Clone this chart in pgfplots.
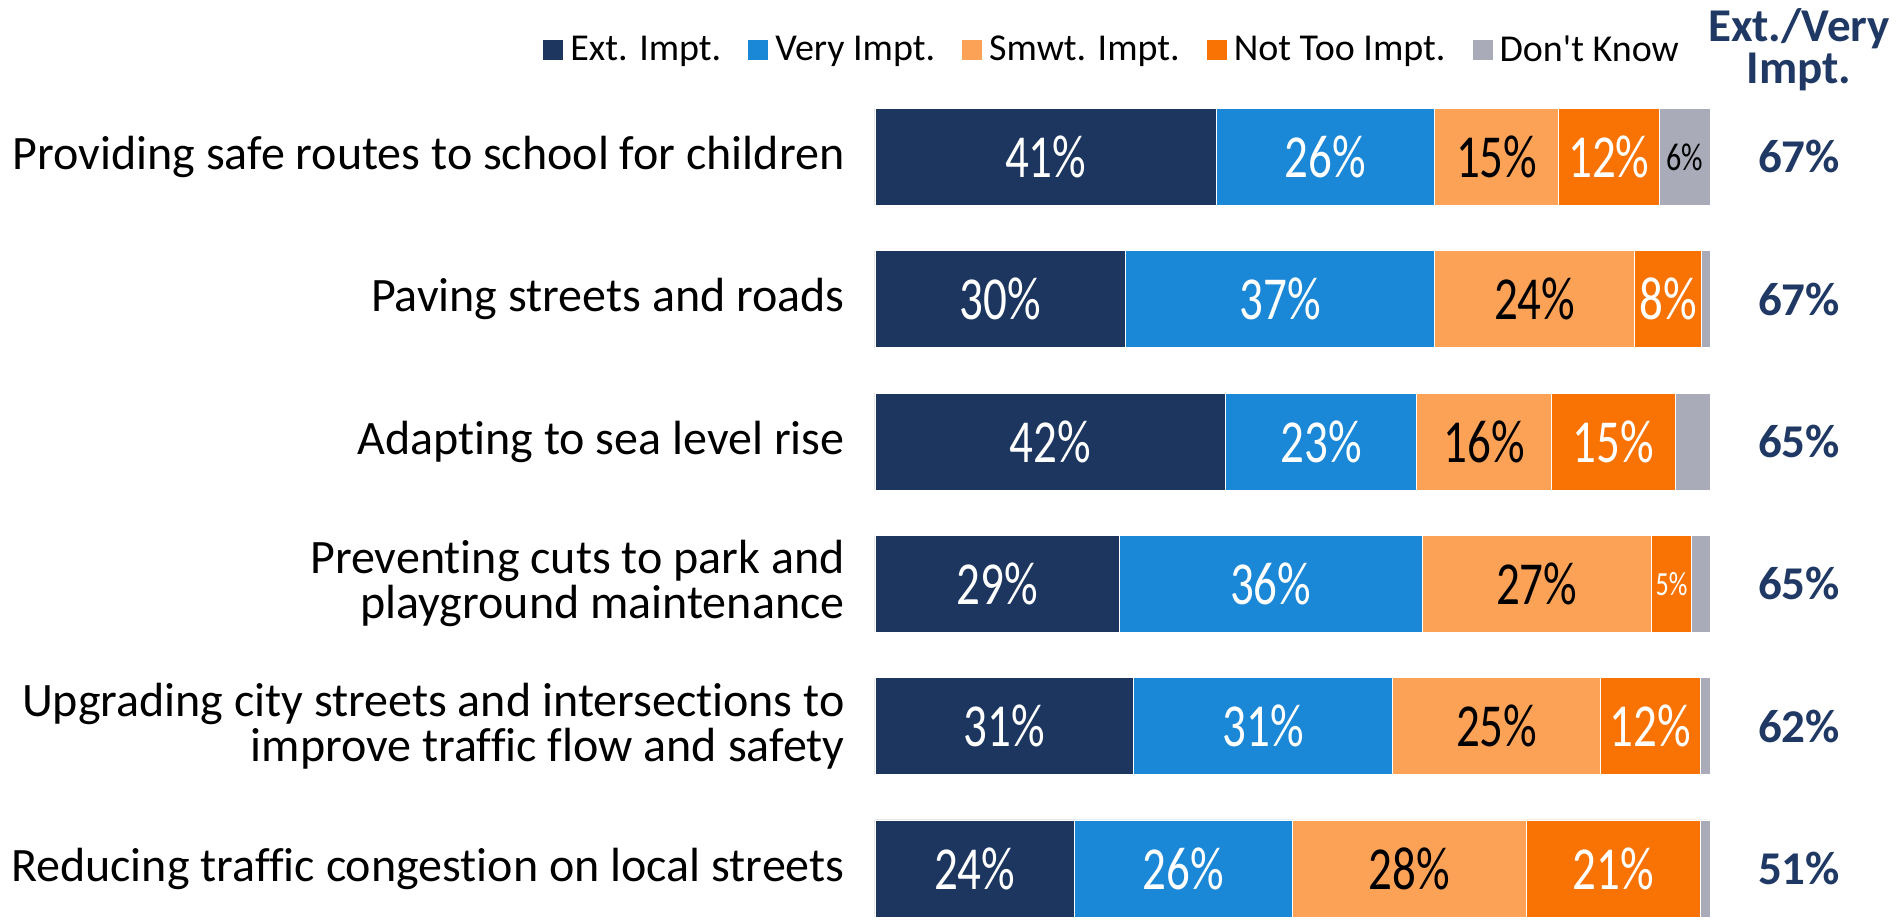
\documentclass[border=0pt]{standalone}
\usepackage{fontspec}
\setmainfont{Carlito}[Ligatures={NoCommon}]
\usepackage{pgfplots}
\usepackage{pgfplotstable}
\pgfplotsset{compat=1.18}
\definecolor{cExt}{HTML}{1C365F}
\definecolor{cVery}{HTML}{1B87D7}
\definecolor{cSmwt}{HTML}{FBA257}
\definecolor{cNot}{HTML}{F87304}
\definecolor{cDK}{HTML}{A9ABB8}
\definecolor{cHead}{HTML}{1F3864}
\newcommand\catfont{\fontsize{24}{22.5}\selectfont}
\newcommand\topfont{\fontsize{23.5}{21}\selectfont\bfseries}

% segment widths (percent of the bar) and the printed labels
\pgfplotstableread{
row ext  very smwt not  dk   lext lvery lsmwt lnot ldk
0   40.9 26.1 14.9 12.0 6.1  41   26    15    12   6
1   30.0 37.0 24.0 8.0  1.0  30   37    24    8    1
2   42.0 22.9 16.1 14.9 4.1  42   23    16    15   4
3   29.3 36.2 27.5 4.8  2.2  29   36    27    5    2
4   31.0 31.0 24.9 11.9 1.2  31   31    25    12   1
5   23.9 26.1 28.0 20.9 1.1  24   26    28    21   1
}\shares

\pgfplotsset{
  frame/.style={
    width=948.5pt, height=460pt, scale only axis,
    hide axis, clip=false,
    xmin=-104.79, xmax=122.40,
    ymin=-1.103, ymax=5.362, y dir=reverse,
  },
  seg/.style={draw=white, line width=0.4pt},
  lab/.style={draw=none, mark=none, nodes near coords,
    /pgf/number format/assume math mode=true,
    nodes near coords={\scalebox{1}[1.3]{\pgfmathprintnumber{\pgfplotspointmeta}\%}},
    every node near coord/.append style={anchor=center, inner sep=0pt,
      font=\fontsize{23.5}{23.5}\selectfont, text=#1}},
}

\begin{document}
\begin{tikzpicture}
\begin{axis}[
  frame,
  xbar stacked, bar width=0.682,
  legend columns=5,
  legend image code/.code={\fill[#1,draw=none] (0pt,-5pt) rectangle (10pt,5pt);},
  legend style={draw=none, fill=none, inner sep=0pt,
    at={(axis cs:-39.76,-0.752)}, anchor=west,
    font=\fontsize{19}{19}\selectfont,
    nodes={inner xsep=3.5pt},
    /tikz/every even column/.append style={column sep=10pt}},
  legend cell align=left,
]
\path (rel axis cs:0,0) rectangle (rel axis cs:1,1);
\addplot[seg, fill=cExt]  table[x=ext,  y=row] \shares;
\addlegendentry{Ext. Impt.}
\addplot[seg, fill=cVery] table[x=very, y=row] \shares;
\addlegendentry{Very Impt.}
\addplot[seg, fill=cSmwt] table[x=smwt, y=row] \shares;
\addlegendentry{Smwt. Impt.}
\addplot[seg, fill=cNot]  table[x=not,  y=row] \shares;
\addlegendentry{Not Too Impt.}
\addplot[seg, fill=cDK]   table[x=dk,   y=row] \shares;
\addlegendentry{Don\textquotesingle t Know}

% category labels
\node[anchor=east, align=right, font=\catfont] at (axis cs:-2.8,0) {Providing safe routes to school for children};
\node[anchor=east, align=right, font=\catfont] at (axis cs:-2.8,1) {Paving streets and roads};
\node[anchor=east, align=right, font=\catfont] at (axis cs:-2.8,2) {Adapting to sea level rise};
\node[anchor=east, align=right, font=\catfont] at (axis cs:-2.8,3) {Preventing cuts to park and\\playground maintenance};
\node[anchor=east, align=right, font=\catfont] at (axis cs:-2.8,4) {Upgrading city streets and intersections to\\improve traffic flow and safety};
\node[anchor=east, align=right, font=\catfont] at (axis cs:-2.8,5) {Reducing traffic congestion on local streets};

% Ext./Very column (base = baseline of the last line)
\node[anchor=base, align=center, inner sep=0pt, font=\topfont, text=cHead]
  at (axis cs:110.66,-0.513) {Ext./Very\\Impt.};
\node[font=\topfont, text=cHead] at (axis cs:110.66,0) {67\%};
\node[font=\topfont, text=cHead] at (axis cs:110.66,1) {67\%};
\node[font=\topfont, text=cHead] at (axis cs:110.66,2) {65\%};
\node[font=\topfont, text=cHead] at (axis cs:110.66,3) {65\%};
\node[font=\topfont, text=cHead] at (axis cs:110.66,4) {62\%};
\node[font=\topfont, text=cHead] at (axis cs:110.66,5) {51\%};
\end{axis}

% segment labels, centred on each segment (same frame, no stacking)
\begin{axis}[frame]
\addplot[lab=white, point meta=\thisrow{lext}]
  table[x expr=\thisrow{ext}/2, y=row] \shares;
\addplot[lab=white, point meta=\thisrow{lvery}]
  table[x expr=\thisrow{ext}+\thisrow{very}/2, y=row] \shares;
\addplot[lab=black, point meta=\thisrow{lsmwt}]
  table[x expr=\thisrow{ext}+\thisrow{very}+\thisrow{smwt}/2, y=row] \shares;
\addplot[lab=white, point meta=\thisrow{lnot}, skip coords between index={3}{4}]
  table[x expr=\thisrow{ext}+\thisrow{very}+\thisrow{smwt}+\thisrow{not}/2, y=row] \shares;
\addplot[lab=white, point meta=\thisrow{lnot}, skip coords between index={0}{3},
  skip coords between index={4}{6},
  every node near coord/.append style={font=\fontsize{13}{13}\selectfont}]
  table[x expr=\thisrow{ext}+\thisrow{very}+\thisrow{smwt}+\thisrow{not}/2, y=row] \shares;
\addplot[lab=black, point meta=\thisrow{ldk}, skip coords between index={1}{6},
  every node near coord/.append style={font=\fontsize{15}{15}\selectfont}]
  table[x expr=\thisrow{ext}+\thisrow{very}+\thisrow{smwt}+\thisrow{not}+\thisrow{dk}/2, y=row] \shares;
\end{axis}
\end{tikzpicture}
\end{document}
